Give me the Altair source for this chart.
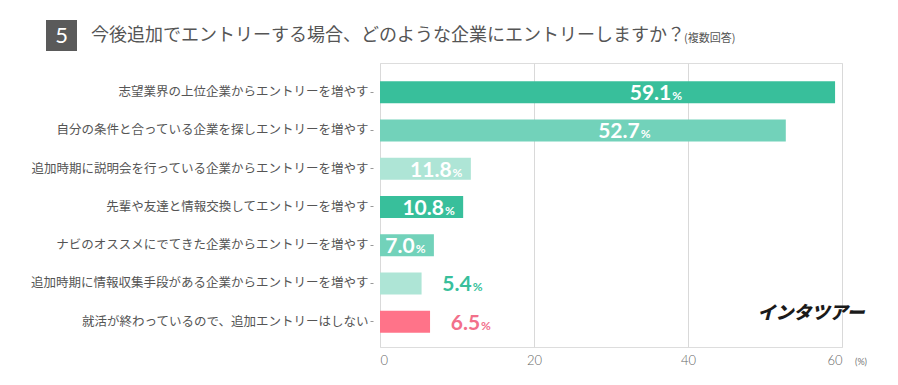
import altair as alt
import pandas as pd

categories = [
    "志望業界の上位企業からエントリーを増やす",
    "自分の条件と合っている企業を探しエントリーを増やす",
    "追加時期に説明会を行っている企業からエントリーを増やす",
    "先輩や友達と情報交換してエントリーを増やす",
    "ナビのオススメにでてきた企業からエントリーを増やす",
    "追加時期に情報収集手段がある企業からエントリーを増やす",
    "就活が終わっているので、追加エントリーはしない",
]
values = [59.1, 52.7, 11.8, 10.8, 7.0, 5.4, 6.5]
bar_colors = ["#38bf9b", "#72d2ba", "#aee5d6", "#38bf9b", "#72d2ba", "#aee5d6", "#ff7389"]
label_place = ["mid", "mid", "end", "end", "end", "out", "out"]
label_colors = ["#ffffff", "#ffffff", "#ffffff", "#ffffff", "#ffffff", "#38bf9b", "#f2708a"]
x_ticks = [0, 20, 40, 60]

title_num = "5"
title_text = "今後追加でエントリーする場合、どのような企業にエントリーしますか？"
title_note = "(複数回答)"
unit_text = "(%)"
logo_text = "インタツアー"

df = pd.DataFrame({
    "category": categories,
    "value": values,
    "color": bar_colors,
    "place": label_place,
    "lcolor": label_colors,
})

W, H = 462, 284

y_enc = alt.Y(
    "category:N", sort=None, title=None,
    scale=alt.Scale(paddingInner=0.425, paddingOuter=0.425, align=0.56),
    axis=alt.Axis(
        labelFont="Noto Sans CJK JP", labelFontSize=12.5, labelColor="#555555",
        domain=False, ticks=True, tickSize=3, tickColor="#999999", offset=7,
        labelPadding=2, labelLimit=400, grid=False,
    ),
)
x_scale = alt.Scale(domain=[0, 60], nice=False)

base = alt.Chart(df)

bars = base.mark_bar().encode(
    x=alt.X(
        "value:Q", scale=x_scale, title=None,
        axis=alt.Axis(
            values=x_ticks, grid=True, gridColor="#d9d9d9", gridWidth=1,
            domain=False, ticks=False, labelFont="Lato", labelFontSize=13,
            labelFontWeight=300, labelColor="#666666", labelPadding=7,
        ),
    ),
    y=y_enc,
    color=alt.Color("color:N", scale=None, legend=None),
)

lab = base.transform_calculate(
    anchor="datum.place == 'mid' ? datum.value * 0.64 : (datum.place == 'end' ? datum.value - 2.5 : datum.value + 6.5)",
    num="format(datum.value, '.1f')",
)

nums = lab.mark_text(
    align="right", baseline="alphabetic", dy=8, font="Lato",
    fontSize=21, fontWeight="bold",
).encode(
    x=alt.X("anchor:Q", scale=x_scale),
    y=alt.Y("category:N", sort=None),
    text="num:N",
    color=alt.Color("lcolor:N", scale=None, legend=None),
)

pcts = lab.mark_text(
    align="left", baseline="alphabetic", dy=8, dx=1, font="Lato",
    fontSize=12, fontWeight="bold",
).encode(
    x=alt.X("anchor:Q", scale=x_scale),
    y=alt.Y("category:N", sort=None),
    text=alt.value("%"),
    color=alt.Color("lcolor:N", scale=None, legend=None),
)

deco = alt.Chart(pd.DataFrame({"d": [0]}))

box = deco.mark_rect(color="#5a5a5a").encode(
    x=alt.value(-334), x2=alt.value(-303), y=alt.value(-43), y2=alt.value(-12)
)
box_num = deco.mark_text(
    color="white", font="Lato", fontSize=22, align="center", baseline="middle"
).encode(x=alt.value(-318.5), y=alt.value(-27), text=alt.value(title_num))
title = deco.mark_text(
    color="#555555", font="Noto Sans CJK JP", fontSize=18, align="left", baseline="middle"
).encode(x=alt.value(-289), y=alt.value(-27), text=alt.value(title_text))
note = deco.mark_text(
    color="#555555", font="Noto Sans CJK JP", fontSize=11, align="left", baseline="middle"
).encode(x=alt.value(304), y=alt.value(-24), text=alt.value(title_note))
unit = deco.mark_text(
    color="#777777", font="Lato", fontSize=9, align="left", baseline="middle"
).encode(x=alt.value(475), y=alt.value(H + 15), text=alt.value(unit_text))
logo = deco.mark_text(
    color="#1a1a1a", font="Noto Sans CJK JP", fontSize=18, fontWeight=900,
    align="center", baseline="middle", fontStyle="italic",
).encode(x=alt.value(431), y=alt.value(251), text=alt.value(logo_text))

chart = alt.layer(bars, nums, pcts, box, box_num, title, note, unit, logo).properties(
    width=W, height=H,
    autosize=alt.AutoSizeParams(type="none"),
    padding={"left": 372, "top": 55, "right": 48, "bottom": 30},
).configure_view(stroke=None).configure(background="white")

chart.save("out.html", embed_options={"renderer": "svg", "actions": False})
